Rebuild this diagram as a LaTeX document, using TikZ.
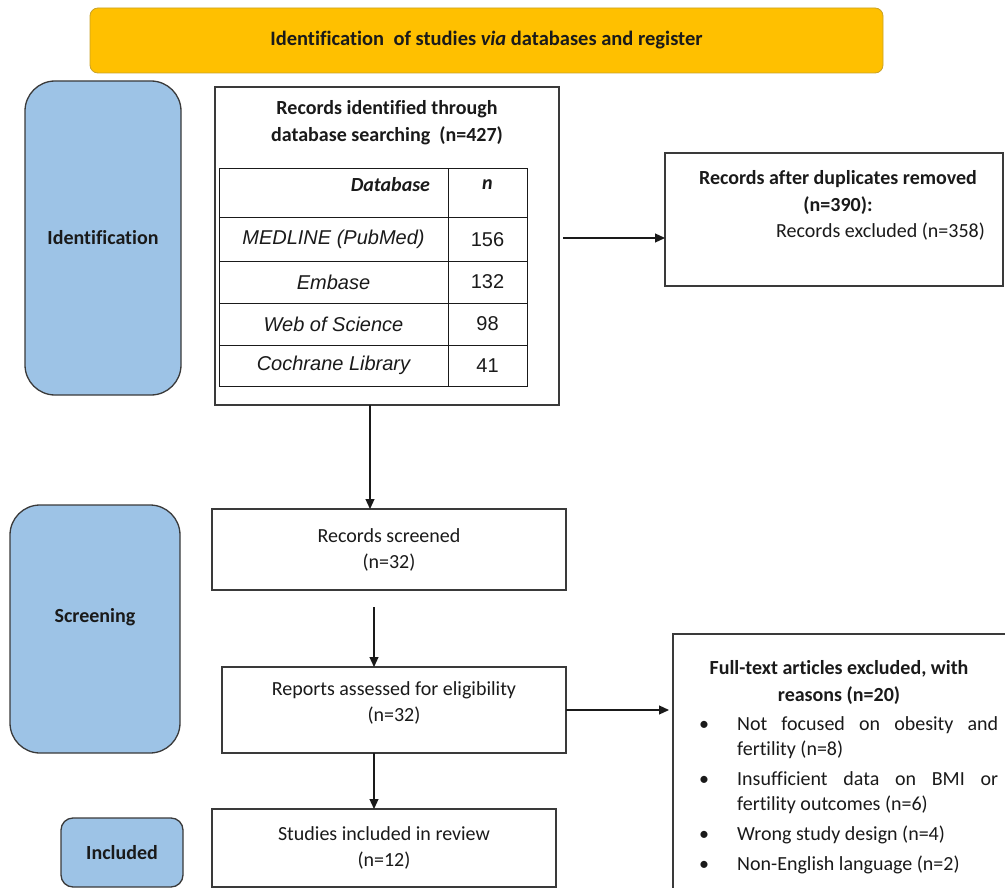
\documentclass[tikz,border=0pt]{standalone}
\usepackage{fontspec}
\setmainfont{Carlito}[Ligatures=NoCommon]
\newfontfamily\tablefont{Liberation Sans}
\usetikzlibrary{arrows.meta}
\definecolor{prismaInk}{HTML}{1A1A1A}
\definecolor{prismaGold}{HTML}{FFC000}
\definecolor{prismaGoldEdge}{HTML}{C9A227}
\definecolor{prismaBlue}{HTML}{9DC3E6}
\definecolor{prismaEdge}{HTML}{3A3A3A}
\newcommand{\exclreason}[1]{\par\noindent\hangindent=38pt\hangafter=1\makebox[38pt][l]{\textbullet}#1\par}
\tikzset{
  every picture/.style={font=\fontsize{20}{26}\selectfont, text=prismaInk},
  prisma box/.style={draw=prismaEdge, line width=1.2pt, fill=white,
    inner sep=0pt, outer sep=0pt},
  prisma text/.style={align=center, inner sep=0pt},
  prisma head/.style={align=center, inner sep=0pt,
    font=\fontsize{20}{27}\selectfont\bfseries},
  stage box/.style={draw=prismaEdge, line width=1.3pt, fill=prismaBlue,
    rounded corners=30pt, inner sep=0pt, font=\fontsize{20}{26}\selectfont\bfseries},
  title bar/.style={draw=prismaGoldEdge, line width=0.8pt, fill=prismaGold,
    rounded corners=8pt, inner sep=0pt, font=\fontsize{20.5}{24}\selectfont\bfseries},
  table cell/.style={draw=prismaInk, line width=1pt, inner sep=0pt,
    font=\tablefont\fontsize{20}{24}\selectfont\itshape},
  flow arrow/.style={-{Triangle[length=10pt,width=9pt]},
    draw=prismaInk, line width=1.2pt}
}
\begin{document}
\begin{tikzpicture}[x=1pt,y=-1pt]
  \useasboundingbox (0,0) rectangle (1005,888);
  \node[title bar, minimum width=793pt, minimum height=65pt] (title) at (486.5,40.5)
    {Identification\ \ of studies \textit{via} databases and register};

  % stages
  \node[stage box, minimum width=156pt, minimum height=314pt] (identification) at (103,238) {Identification};
  \node[stage box, minimum width=170pt, minimum height=248pt, text depth=28pt] (screening) at (95,629) {Screening};
  \node[stage box, rounded corners=12pt, minimum width=122pt, minimum height=69pt] (included) at (122,852.5) {Included};

  % identification
  \node[prisma box, minimum width=344pt, minimum height=318pt] (search) at (387,246) {};
  \node[prisma head] (searchTitle) at (387,122.5) {Records identified through\\database searching\ \ (n=427)};
  \node[table cell, minimum width=229pt, minimum height=49pt, text width=193pt, align=right,
    font=\fontsize{20}{26}\selectfont\bfseries\itshape] (dbHead) at (333.5,193.5) {Database\\[-8pt]\mbox{}};
  \node[table cell, minimum width=79pt, minimum height=49pt, align=center,
    font=\fontsize{20}{26}\selectfont\bfseries\itshape] (nHead) at (487.5,193.5) {n\\[-8pt]\mbox{}};
  \foreach \name/\count/\y/\h [count=\i] in {MEDLINE (PubMed)/156/239.5/43, Embase/132/282/42,
      Web of Science/98/324/42, Cochrane Library/41/365.5/41} {
    \node[table cell, minimum width=229pt, minimum height=\h pt] (db\i) at (333.5,\y) {\name};
    \node[table cell, minimum width=79pt, minimum height=\h pt,
      font=\tablefont\fontsize{20}{24}\selectfont] (n\i) at (487.5,\y) {\count};
  }
  \node[prisma box, minimum width=338pt, minimum height=133pt] (dedup) at (834,219.5) {};
  \node[prisma head] (dedupTitle) at (838,192.5) {Records after duplicates removed\\(n=390):};
  \node[prisma text] (dedupExcluded) at (880.5,232) {Records excluded (n=358)};

  % screening
  \node[prisma box, minimum width=354pt, minimum height=81pt, align=center] (screened) at (389,549.5)
    {Records screened\\(n=32)};
  \node[prisma box, minimum width=344pt, minimum height=86pt] (reports) at (394,710) {};
  \node[prisma text] (reportsText) at (394,703) {Reports assessed for eligibility\\(n=32)};
  \node[prisma box, anchor=north west, minimum width=345pt, minimum height=270pt] (fulltext) at (673,634) {};
  \node[prisma head] (fulltextTitle) at (839,682.5) {Full-text articles excluded, with\\reasons (n=20)};
  \node[anchor=north west, inner sep=0pt, text width=299pt, align=justify,
    font=\fontsize{20}{25}\selectfont] (reasons) at (699,700) {%
    \setlength{\parskip}{5pt}%
    \exclreason{Not focused on obesity and\linebreak fertility (n=8)}
    \exclreason{Insufficient data on BMI or\linebreak fertility outcomes (n=6)}
    \exclreason{Wrong study design (n=4)}
    \exclreason{Non-English language (n=2)}};

  % included
  \node[prisma box, minimum width=344pt, minimum height=78pt, align=center] (studies) at (384,848)
    {Studies included in review\\(n=12)};

  \draw[flow arrow] ([xshift=-17pt]search.south) -- ([xshift=-19pt]screened.north);
  \draw[flow arrow] ([xshift=4pt,yshift=8pt]search.east) -- ([yshift=-18.5pt]dedup.west);
  \draw[flow arrow] ([xshift=-15pt,yshift=-17pt]screened.south) -- ([xshift=-20pt]reports.north);
  \draw[flow arrow] ([xshift=-20pt]reports.south) -- ([xshift=-10pt]studies.north);
  \draw[flow arrow] (reports.east) -- ([xshift=-4pt]fulltext.west |- reports.east);
\end{tikzpicture}
\end{document}
